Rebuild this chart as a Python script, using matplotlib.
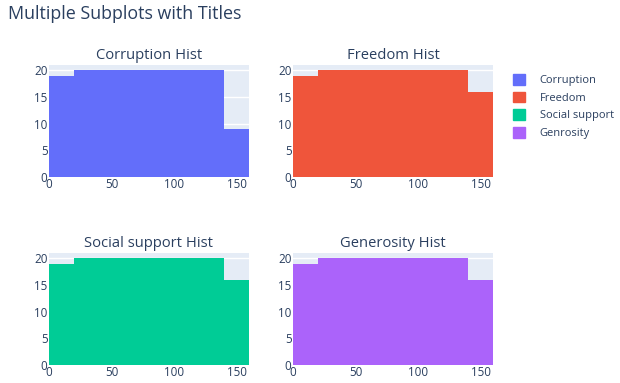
import matplotlib.pyplot as plt
import numpy as np
from matplotlib.patches import Patch

plt.rcParams['font.family'] = ['Open Sans', 'DejaVu Sans']

# bin edges and counts per bin
bin_edges = [0, 20, 40, 60, 80, 100, 120, 140, 160]
corruption = [19, 20, 20, 20, 20, 20, 20, 9]
freedom = [19, 20, 20, 20, 20, 20, 20, 16]
social_support = [19, 20, 20, 20, 20, 20, 20, 16]
generosity = [19, 20, 20, 20, 20, 20, 20, 16]

names = ['Corruption', 'Freedom', 'Social support', 'Genrosity']
titles = ['Corruption Hist', 'Freedom Hist', 'Social support Hist', 'Generosity Hist']
colors = ['#636efa', '#EF553B', '#00cc96', '#ab63fa']
series = [corruption, freedom, social_support, generosity]

txt = '#2a3f5f'
W, H = 620, 383
fig = plt.figure(figsize=(W / 100, H / 100), dpi=100)

# axes boxes in pixels: left, top, width, height
boxes = [(49, 65, 200, 112), (293, 65, 200, 112),
         (49, 253, 200, 112), (293, 253, 200, 112)]

edges = np.array(bin_edges)
for box, vals, col, title in zip(boxes, series, colors, titles):
    l, t, w, h = box
    ax = fig.add_axes([l / W, 1 - (t + h) / H, w / W, h / H])
    ax.set_facecolor('#E5ECF6')
    ax.bar(edges[:-1], vals, width=np.diff(edges), align='edge', color=col,
           linewidth=0, zorder=2)
    ax.set_xlim(0, 160)
    ax.set_ylim(0, 21)
    ax.set_yticks([0, 5, 10, 15, 20])
    ax.set_xticks([0, 50, 100, 150])
    ax.grid(axis='y', color='white', linewidth=1, zorder=1)
    ax.set_axisbelow(True)
    for s in ax.spines.values():
        s.set_visible(False)
    ax.tick_params(length=0, labelsize=8.4, labelcolor=txt, pad=1)
    ax.set_title(title, fontsize=10.6, color=txt, pad=4)

fig.text(8 / W, 1 - 14 / H, 'Multiple Subplots with Titles', fontsize=12.9,
         color=txt, va='center', ha='left')

handles = [Patch(facecolor=c, edgecolor=c) for c in colors]
fig.legend(handles, names, loc='upper left', bbox_to_anchor=(503 / W, 1 - 64 / H),
           frameon=False, fontsize=8.0, labelcolor=txt, handlelength=1.1,
           handleheight=1.1, handletextpad=1.3, labelspacing=0.5)

fig.savefig('out.png', dpi=100)
